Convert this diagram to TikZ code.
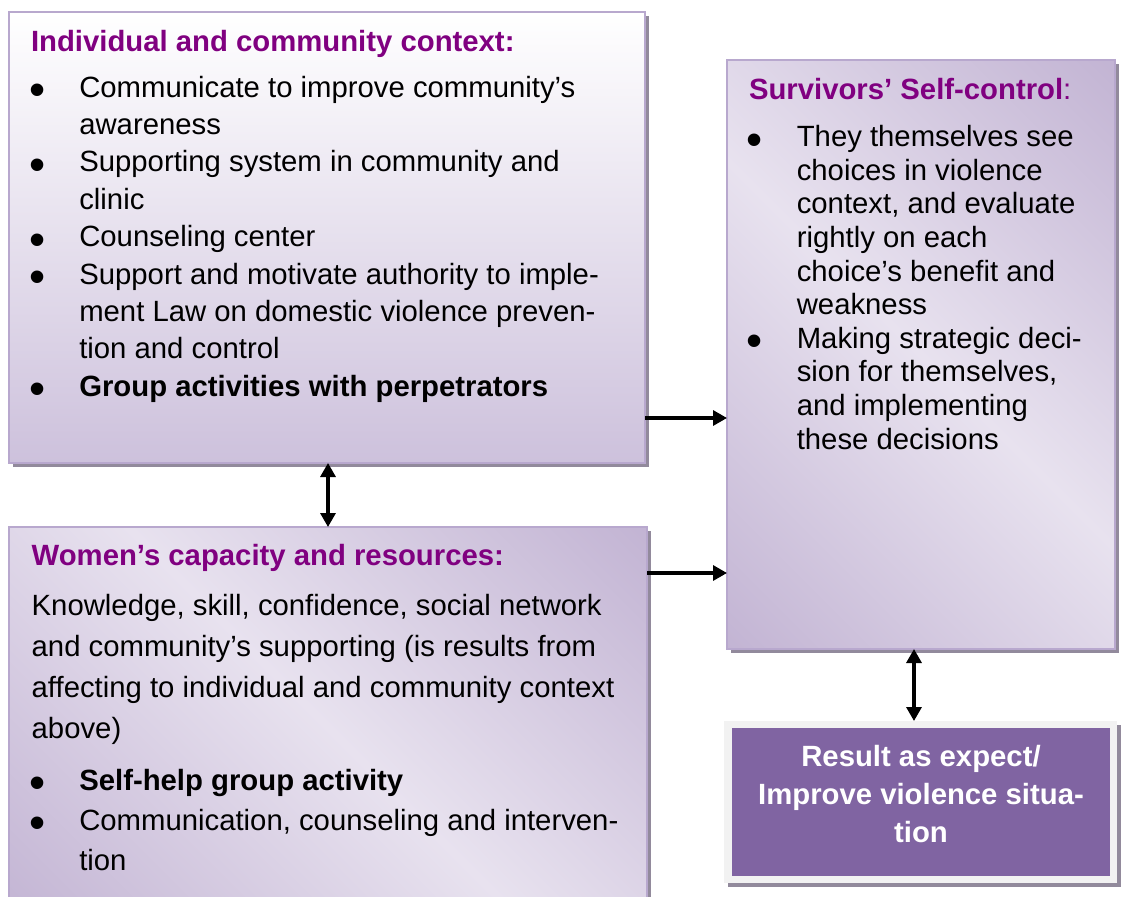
\documentclass[tikz,border=0pt]{standalone}
\usepackage{fontspec}
\setmainfont{Liberation Sans}
\usetikzlibrary{arrows.meta,shadows}
\definecolor{ttl}{HTML}{800080}
\definecolor{bord}{HTML}{B8A8CE}
\definecolor{shd}{HTML}{928A9C}
\definecolor{pdk}{HTML}{B3A1C8}
\definecolor{plt}{HTML}{E8E2EF}
\definecolor{res}{HTML}{8064A2}
\definecolor{frm}{HTML}{F2F2F2}
\definecolor{bonebot}{HTML}{CDC1DC}
\pgfdeclarehorizontalshading{band}{100bp}{color(0bp)=(pdk); color(50bp)=(plt); color(100bp)=(pdk)}
\newcommand\bul{\makebox[48.3pt][l]{\hspace*{6.5pt}\makebox[0pt]{\raisebox{-8.4pt}[0pt][0pt]{\fontsize{46}{46}\selectfont •}}}}
\newcommand\nob{\hspace*{48.3pt}}
\newcommand\txt[1]{\fontsize{29.3}{#1}\selectfont}
\tikzset{
  box/.style={draw=bord, line width=1.8pt, inner sep=0pt, outer sep=0pt, anchor=north west,
    general shadow={fill=shd, shadow xshift=3.5pt, shadow yshift=-3.5pt}},
  txtnode/.style={inner sep=0pt, outer sep=0pt, anchor=base west},
  ttlnode/.style={txtnode, font={\txt{36}\bfseries}, text=ttl},
  arr/.style={line width=3.2pt, -{Triangle[length=14pt,width=15pt]}},
  darr/.style={line width=3.2pt, {Triangle[length=14pt,width=15pt]}-{Triangle[length=14pt,width=15pt]}}
}
\begin{document}
\begin{tikzpicture}[x=1pt,y=-1pt]
\useasboundingbox (0,0) rectangle (1122,897);
% boxes
\node[box, top color=white, bottom color=bonebot, minimum width=636pt, minimum height=451pt] (b1) at (9,12) {};
\node[box, shading=band, shading angle=45, minimum width=638pt, minimum height=400pt] (b2) at (9,527) {};
\node[box, shading=band, shading angle=45, minimum width=388pt, minimum height=589pt] (b3) at (727,60) {};
\node[box, draw=none, fill=frm, minimum width=393pt, minimum height=162pt] (ro) at (724,721) {};
\node[inner sep=0pt, outer sep=0pt, anchor=north west, fill=res, minimum width=378pt, minimum height=148pt] (ri) at (732,728) {};
% texts box 1
\node[ttlnode] (t1) at (31,51) {Individual and community context:};
\node[txtnode] (t1b) at (31,97) {\txt{37.4}\begin{tabular}[t]{@{}l@{}}
\bul Communicate to improve community’s\\
\nob awareness\\
\bul Supporting system in community and\\
\nob clinic\\
\bul Counseling center\\
\bul Support and motivate authority to imple-\\
\nob ment Law on domestic violence preven-\\
\nob tion and control\\
\bul \textbf{Group activities with perpetrators}
\end{tabular}};
% texts box 2
\node[ttlnode] (t2) at (31.7,565) {Women’s capacity and resources:};
\node[txtnode] (t2b) at (31.7,615) {\txt{41}\begin{tabular}[t]{@{}l@{}}
Knowledge, skill, confidence, social network\\
and community’s supporting (is results from\\
affecting to individual and community context\\
above)
\end{tabular}};
\node[txtnode] (t2c) at (31,790) {\txt{40.3}\begin{tabular}[t]{@{}l@{}}
\bul \textbf{Self-help group activity}\\
\bul Communication, counseling and interven-\\
\nob tion
\end{tabular}};
% texts box 3
\node[txtnode, text=ttl] (t3) at (749,99) {\txt{36}\textbf{Survivors’ Self-control}:};
\node[txtnode] (t3b) at (748.5,146.7) {\txt{33.6}\begin{tabular}[t]{@{}l@{}}
\bul They themselves see\\
\nob choices in violence\\
\nob context, and evaluate\\
\nob rightly on each\\
\nob choice’s benefit and\\
\nob weakness\\
\bul Making strategic deci-\\
\nob sion for themselves,\\
\nob and implementing\\
\nob these decisions
\end{tabular}};
% result text
\node[inner sep=0pt, outer sep=0pt, anchor=base, text=white] (rt) at (921,766.7) {\txt{38}\bfseries\begin{tabular}[t]{@{}c@{}}
Result as expect/\\
Improve violence situa-\\
tion
\end{tabular}};
% arrows
\draw[arr] (b1.east |- 0,418) -- (b3.west |- 0,418);
\draw[arr] (b2.east |- 0,573) -- (b3.west |- 0,573);
\draw[darr] (b1.south -| 328,0) -- (b2.north -| 328,0);
\draw[darr] (b3.south -| 914,0) -- (ro.north -| 914,0);
\end{tikzpicture}
\end{document}
